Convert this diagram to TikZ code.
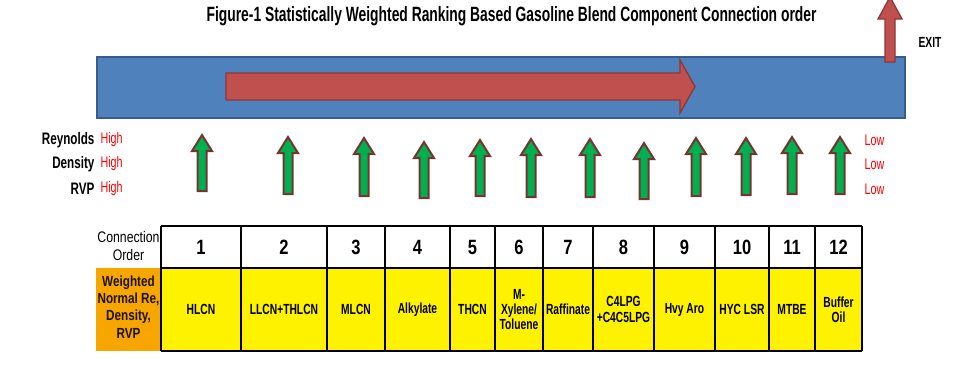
\documentclass[tikz,border=0pt]{standalone}
\usepackage{fontspec}
\setmainfont{Liberation Sans}[FakeStretch=0.8]
\newfontfamily\narrowfont{Liberation Sans}[FakeStretch=0.7]
\newfontfamily\titlefont{Liberation Sans}[FakeStretch=0.67]
\usepackage{tikz}

\definecolor{barblue}{RGB}{79,129,189}
\definecolor{barblueline}{RGB}{56,93,138}
\definecolor{flowred}{RGB}{192,80,77}
\definecolor{flowredline}{RGB}{140,56,54}
\definecolor{arrowgreen}{RGB}{0,176,80}
\definecolor{arrowrim}{RGB}{120,50,50}
\definecolor{headorange}{RGB}{247,166,0}

\tikzset{
    greenarrow/.style={fill=arrowgreen, draw=arrowrim, line width=1.5pt},
    flowarrow/.style={fill=flowred, draw=flowredline, line width=1pt},
    propname/.style={anchor=east, font=\narrowfont\bfseries\fontsize{12.5}{14}\selectfont, inner sep=1pt},
    highlow/.style={anchor=west, text=red, font=\narrowfont\fontsize{11.5}{13}\selectfont, inner sep=1pt},
    ordnum/.style={font=\bfseries\fontsize{15.5}{17}\selectfont},
    comptext/.style={align=center, font=\narrowfont\bfseries\fontsize{11}{11.5}\selectfont},
}

\begin{document}
\begin{tikzpicture}[x=0.75pt, y=-0.75pt, line join=miter]
    \useasboundingbox (0,0) rectangle (960,383);
    \clip (0,0) rectangle (960,383);

    % title
    \node[font=\titlefont\bfseries\fontsize{15.5}{17}\selectfont] (title) at (511.5,16) {Figure-1 Statistically Weighted Ranking Based Gasoline Blend Component Connection order};

    % header pipe
    \draw[fill=barblue, draw=barblueline, line width=1.2pt] (97,57) rectangle (905,118);
    \draw[flowarrow] (226,73) -- (680,73) -- (680,60) -- (695,86.5) -- (680,113) -- (680,100) -- (226,100) -- cycle;

    % exit
    \draw[flowarrow] (885,62) -- (885,19) -- (878,19) -- (890,-3) -- (902,19) -- (895,19) -- (895,62) -- cycle;
    \node[font=\narrowfont\bfseries\fontsize{11}{12}\selectfont] (exit) at (930,42) {EXIT};

    % property labels
    \node[propname] (reyn) at (96,140) {Reynolds};
    \node[propname] (dens) at (96,164) {Density};
    \node[propname] (rvp) at (96,189) {RVP};
    \foreach \y/\n in {140/1,164/2,189/3} {
        \node[highlow] (high\n) at (99,\y) {High};
        \node[highlow] (low\n) at (863,\y) {Low};
    }

    % blend components entering
    \foreach \x/\t/\b in {202/135/191, 288/137/194, 364/138/196, 424/142/198, 480/140/196, 531/139/197,
                          590/139/197, 644/143/199, 696/138/196, 746/138/195, 792/137/194, 840/137/194}
        \draw[greenarrow] (\x-4.5,\b) -- (\x-4.5,\t+16) -- (\x-10,\t+16) -- (\x,\t) -- (\x+10,\t+16)
                          -- (\x+4.5,\t+16) -- (\x+4.5,\b) -- cycle;

    % order table
    \fill[headorange] (96,268) rectangle (161,351);
    \node[align=center, font=\fontsize{11.5}{14}\selectfont] (ordlabel) at (128.5,246) {Connection\\Order};
    \node[align=center, text=black!85!brown, font=\bfseries\fontsize{11}{13}\selectfont] (wlabel) at (128.5,307) {Weighted\\Normal Re,\\Density,\\RVP};
    \foreach \l/\r/\txt [count=\i] in {161/241/HLCN, 241/327/LLCN+THLCN, 327/385/MLCN, 385/450/Alkylate,
                                      450/495/THCN, 495/543/{M-\\Xylene/\\Toluene}, 543/593/Raffinate,
                                      593/654/{C4LPG\\+C4C5LPG}, 654/715/Hvy Aro, 715/769/HYC LSR,
                                      769/815/MTBE, 815/862/{Buffer\\Oil}} {
        \fill[yellow] (\l,268) rectangle (\r,351);
        \node[ordnum] (ord\i) at ({(\l+\r)/2},247) {\i};
        \node[comptext] (comp\i) at ({(\l+\r)/2},309.5) {\txt};
        \draw[line width=0.8pt] (\l,226) -- (\l,351);
    }
    \draw[line width=0.8pt] (862,226) -- (862,351);
    \draw[line width=1.2pt] (161,226) -- (862,226);
    \draw[line width=1.2pt] (161,268) -- (862,268);
    \draw[line width=0.8pt] (161,351) -- (862,351);
\end{tikzpicture}
\end{document}
